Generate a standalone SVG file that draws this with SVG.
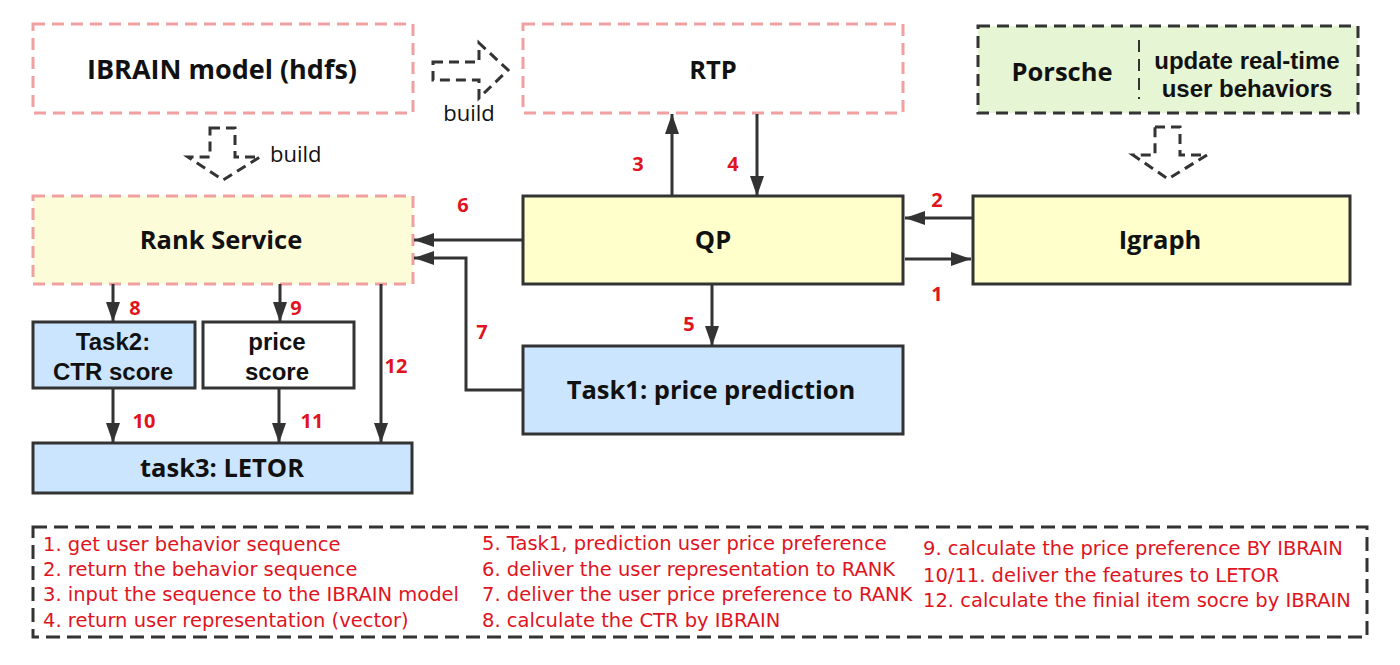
<svg xmlns="http://www.w3.org/2000/svg" width="1400" height="665" viewBox="0 0 1400 665">
<defs>
<marker id="ah" viewBox="0 0 20 14" refX="20" refY="7" markerWidth="20" markerHeight="14" markerUnits="userSpaceOnUse" orient="auto">
<path d="M0,0 L20,7 L0,14 Z" fill="#333"/>
</marker>
<style>
.pink{fill:#fff;stroke:#f0a0a0;stroke-width:3;stroke-dasharray:12 7}
.solid{stroke:#333;stroke-width:3}
.yel{fill:#ffffcc}
.blue{fill:#cce5ff}
.lbl{font-family:"Open Sans","Noto Sans",sans-serif;font-weight:bold;font-size:25.5px;fill:#111;text-anchor:middle}
.lbl2{font-family:"Liberation Sans",Arial,sans-serif;font-weight:bold;font-size:24px;fill:#111;text-anchor:middle}
.num{font-family:"Open Sans","Noto Sans",sans-serif;font-weight:bold;font-size:20px;fill:#e0141e;text-anchor:middle}
.leg{font-family:"DejaVu Sans","Noto Sans",sans-serif;font-size:19.5px;fill:#e0141e}
.hollow{fill:none;stroke:#333;stroke-width:3;stroke-dasharray:10 6}
.build{font-family:"Open Sans","Noto Sans",sans-serif;font-size:22px;fill:#111}
.con{fill:none;stroke:#333;stroke-width:3;marker-end:url(#ah)}
</style>
</defs>
<rect width="1400" height="665" fill="#fff"/>

<g id="ibrain">
<rect x="33" y="24" width="380" height="89" class="pink"/>
<text x="222" y="79" class="lbl" style="font-size:27px">IBRAIN model (hdfs)</text>
</g>
<g id="rtp">
<rect x="523" y="24" width="380" height="89" class="pink"/>
<text x="713" y="79" class="lbl">RTP</text>
</g>
<g id="porsche">
<rect x="978" y="26" width="380" height="87" fill="#e6f5d3" stroke="#333" stroke-width="3" stroke-dasharray="12 7"/>
<line x1="1139" y1="40" x2="1139" y2="99" stroke="#333" stroke-width="2" stroke-dasharray="12 7"/>
<text x="1062" y="81" class="lbl">Porsche</text>
<text x="1247" y="69" class="lbl2">update real-time</text>
<text x="1247" y="97" class="lbl2">user behaviors</text>
</g>
<g id="rank">
<rect x="33" y="196" width="380" height="88" class="pink" style="fill:#fdfcd9"/>
<text x="221" y="249" class="lbl">Rank Service</text>
</g>
<g id="qp">
<rect x="523" y="196" width="380" height="88" class="solid yel"/>
<text x="713" y="249" class="lbl">QP</text>
</g>
<g id="igraph">
<rect x="973" y="196" width="377" height="88" class="solid yel"/>
<text x="1160" y="249" class="lbl">Igraph</text>
</g>
<g id="task1">
<rect x="523" y="346" width="380" height="88" class="solid blue"/>
<text x="711" y="399" class="lbl">Task1: price prediction</text>
</g>
<g id="task2">
<rect x="33" y="322" width="162" height="66" class="solid blue"/>
<text x="113" y="350" class="lbl2">Task2:</text>
<text x="113" y="380" class="lbl2">CTR score</text>
</g>
<g id="price">
<rect x="203" y="322" width="151" height="66" class="solid" fill="#fff"/>
<text x="277" y="350" class="lbl2">price</text>
<text x="277" y="380" class="lbl2">score</text>
</g>
<g id="task3">
<rect x="33" y="443" width="379" height="50" class="solid blue"/>
<text x="222" y="477" class="lbl">task3: LETOR</text>
</g>

<g id="build-arrows">
<path d="M433,62 L479,62 L479,43 L508,70 L479,98 L479,80 L433,80 Z" class="hollow"/>
<text x="469" y="121" class="build" text-anchor="middle">build</text>
<path d="M210,128 L235,128 L235,157 L260,157 L223,180 L188,157 L210,157 Z" class="hollow"/>
<text x="270" y="162" class="build">build</text>
<path d="M1155,127 L1180,127 L1180,155 L1207,155 L1168,179 L1133,155 L1155,155 Z" class="hollow"/>
</g>

<g id="connectors">
<line x1="672" y1="196" x2="672" y2="114" class="con"/>
<line x1="757" y1="114" x2="757" y2="196" class="con"/>
<line x1="523" y1="240" x2="414" y2="240" class="con"/>
<polyline points="523,390 466,390 466,258 414,258" class="con"/>
<line x1="712" y1="284" x2="712" y2="346" class="con"/>
<line x1="973" y1="218" x2="905" y2="218" class="con"/>
<line x1="905" y1="259" x2="971" y2="259" class="con"/>
<line x1="113" y1="284" x2="113" y2="322" class="con"/>
<line x1="280" y1="284" x2="280" y2="322" class="con"/>
<line x1="381" y1="284" x2="381" y2="443" class="con"/>
<line x1="113" y1="388" x2="113" y2="443" class="con"/>
<line x1="279" y1="388" x2="279" y2="443" class="con"/>
</g>

<g id="numbers">
<text x="937" y="207" class="num">2</text>
<text x="937" y="301" class="num">1</text>
<text x="638" y="171" class="num">3</text>
<text x="733" y="171" class="num">4</text>
<text x="689" y="331" class="num">5</text>
<text x="463" y="212" class="num">6</text>
<text x="482" y="339" class="num">7</text>
<text x="135" y="315" class="num">8</text>
<text x="296" y="315" class="num">9</text>
<text x="144" y="428" class="num">10</text>
<text x="312" y="428" class="num">11</text>
<text x="396" y="373" class="num">12</text>
</g>

<g id="legend">
<rect x="33" y="527" width="1334" height="110" fill="none" stroke="#333" stroke-width="3" stroke-dasharray="14 7"/>
<text x="43" y="551" class="leg">1. get user behavior sequence</text>
<text x="43" y="576" class="leg">2. return the behavior sequence</text>
<text x="43" y="601" class="leg">3. input the sequence to the IBRAIN model</text>
<text x="43" y="627" class="leg">4. return user representation (vector)</text>
<text x="482" y="550" class="leg">5. Task1, prediction user price preference</text>
<text x="482" y="576" class="leg">6. deliver the user representation to RANK</text>
<text x="482" y="601" class="leg">7. deliver the user price preference to RANK</text>
<text x="482" y="627" class="leg">8. calculate the CTR by IBRAIN</text>
<text x="923" y="555" class="leg">9. calculate the price preference BY IBRAIN</text>
<text x="923" y="582" class="leg">10/11. deliver the features to LETOR</text>
<text x="923" y="607" class="leg">12. calculate the finial item socre by IBRAIN</text>
</g>
</svg>
